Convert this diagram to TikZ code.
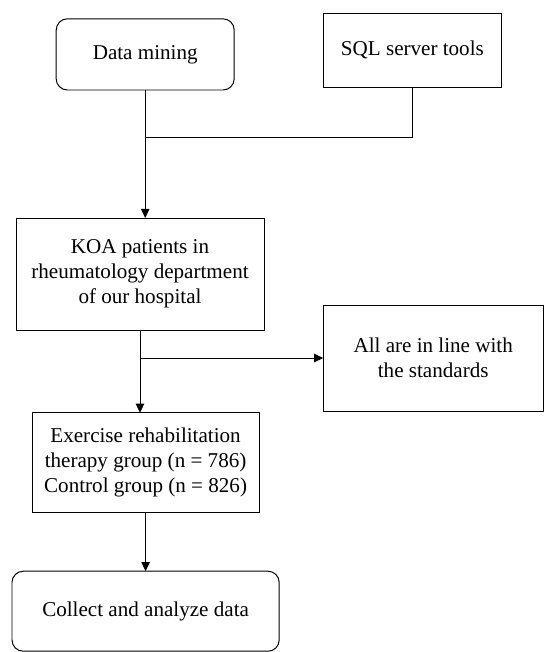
\documentclass[tikz,border=0pt]{standalone}
\usepackage{fontspec}
\setmainfont{Liberation Serif}
\usetikzlibrary{arrows.meta}

\begin{document}
\begin{tikzpicture}[scale=1,inner sep=0pt,outer sep=0pt,line width=0.7pt,
>={Triangle[length=6.5pt,width=6pt]},
box/.style={draw,rectangle,align=center,font=\fontsize{15}{17.8}\selectfont},
roundbox/.style={box,rounded corners=0.28cm}]

\useasboundingbox (0,0) rectangle (13.6,-16.3);

\draw (3.63,-1.36) node[roundbox,minimum width=4.45cm,minimum height=1.78cm] (mining) {Data mining};
\draw (10.31,-1.25) node[box,minimum width=4.43cm,minimum height=1.85cm] (sql) {SQL server tools};
\draw (3.5,-6.85) node[box,minimum width=6.2cm,minimum height=2.8cm] (koa) {KOA patients in\\rheumatology department\\of our hospital};
\draw (10.83,-8.95) node[box,minimum width=5.5cm,minimum height=2.65cm] (std) {All are in line with\\the standards};
\draw (3.64,-11.56) node[box,minimum width=5.68cm,minimum height=2.48cm] (exer) {Exercise rehabilitation\\therapy group (n = 786)\\Control group (n = 826)};
\draw (3.64,-15.28) node[roundbox,minimum width=6.68cm,minimum height=2.0cm] (collect) {Collect and analyze data};

\coordinate (join) at (mining.south |- 0,-3.43);
\draw[->] (mining.south) -- (mining.south |- koa.north);
\draw (sql.south) |- (join);
\draw[->] (koa.south) -- (koa.south |- exer.north);
\draw[->] (std.west -| koa.south) -- (std.west);
\draw[->] (exer.south) -- (collect.north);
\end{tikzpicture}
\end{document}
